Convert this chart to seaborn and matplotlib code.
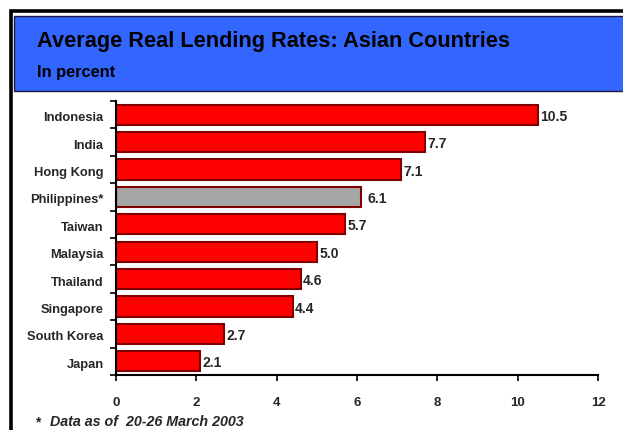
import matplotlib
matplotlib.use("Agg")
import matplotlib.pyplot as plt
import matplotlib.transforms as mtransforms
import seaborn as sns
import pandas as pd
import numpy as np
from matplotlib.patches import Rectangle

countries = ["Indonesia", "India", "Hong Kong", "Philippines*", "Taiwan",
             "Malaysia", "Thailand", "Singapore", "South Korea", "Japan"]
rates = [10.5, 7.7, 7.1, 6.1, 5.7, 5.0, 4.6, 4.4, 2.7, 2.1]
highlight = ["no", "no", "no", "yes", "no", "no", "no", "no", "no", "no"]
x_ticks = [0, 2, 4, 6, 8, 10, 12]

title = "Average Real Lending Rates: Asian Countries"
subtitle = "In percent"
footnote = "Data as of  20-26 March 2003"

sns.set_style("white")
plt.rcParams["font.family"] = ["Liberation Sans", "DejaVu Sans"]

df = pd.DataFrame({"country": countries, "rate": rates, "hl": highlight})

W, H = 623, 430
fig = plt.figure(figsize=(W / 100, H / 100), dpi=100)

def fx(px):
    return px / W
def fy(py):
    return 1 - py / H

fig.patches.append(Rectangle((fx(11), fy(440)), fx(700), (440 - 11) / H, transform=fig.transFigure,
                             fill=False, edgecolor="black", linewidth=2.6, zorder=0))
fig.patches.append(Rectangle((fx(14), fy(91)), fx(700), (91 - 16) / H, transform=fig.transFigure,
                             facecolor="#3366FF", edgecolor="#1a1a40", linewidth=1.0, zorder=1))
fig.text(fx(37), fy(42), title, fontsize=15.7, fontweight="bold", va="center", ha="left", color="black")
fig.text(fx(37), fy(73), subtitle, fontsize=11.8, fontweight="bold", va="center", ha="left", color="black")

ax = fig.add_axes([fx(116), fy(375), fx(598) - fx(116), (375 - 101) / H])
sns.barplot(data=df, y="country", x="rate", hue="hl", palette={"no": "#FF0000", "yes": "#A6A6A6"},
            orient="h", dodge=False, legend=False, width=0.74, edgecolor="#7F0000", linewidth=1.5,
            saturation=1, ax=ax)

ax.set_xlim(0, 12)
ax.set_ylim(9.5, -0.5)
ax.set_xticks(x_ticks)
ax.set_xticklabels([str(t) for t in x_ticks], fontsize=9.5, fontweight="bold")
ax.set_yticks(range(len(countries)))
ax.set_yticklabels(countries, fontsize=9.3, fontweight="bold")
ax.set_yticks(np.arange(-0.5, len(countries), 1.0), minor=True)
ax.tick_params(axis="y", which="major", length=0, pad=9)
ax.tick_params(axis="y", which="minor", length=4, width=1.2, color="black", direction="out", left=True)
ax.tick_params(axis="x", which="major", length=4, width=1.2, color="black", direction="out", bottom=True, pad=12)
ax.set_xlabel("")
ax.set_ylabel("")
for s in ["top", "right"]:
    ax.spines[s].set_visible(False)
for s in ["left", "bottom"]:
    ax.spines[s].set_color("black")
    ax.spines[s].set_linewidth(1.5)
ax.set_facecolor("none")

shift = mtransforms.ScaledTranslation(0, -2 / 100, fig.dpi_scale_trans)
for lab in ax.get_yticklabels():
    lab.set_transform(lab.get_transform() + shift)

for i, (v, h) in enumerate(zip(rates, highlight)):
    off = 0.15 if h == "yes" else 0.06
    ax.text(v + off, i + 0.08, f"{v:.1f}", va="center", ha="left", fontsize=10, fontweight="bold")

fig.text(fx(35), fy(422), "*", fontsize=10, fontweight="bold", va="center", ha="left")
fig.text(fx(50), fy(422), footnote, fontsize=10.3, fontweight="bold", style="italic", va="center", ha="left")

fig.savefig("out.png", dpi=100)
